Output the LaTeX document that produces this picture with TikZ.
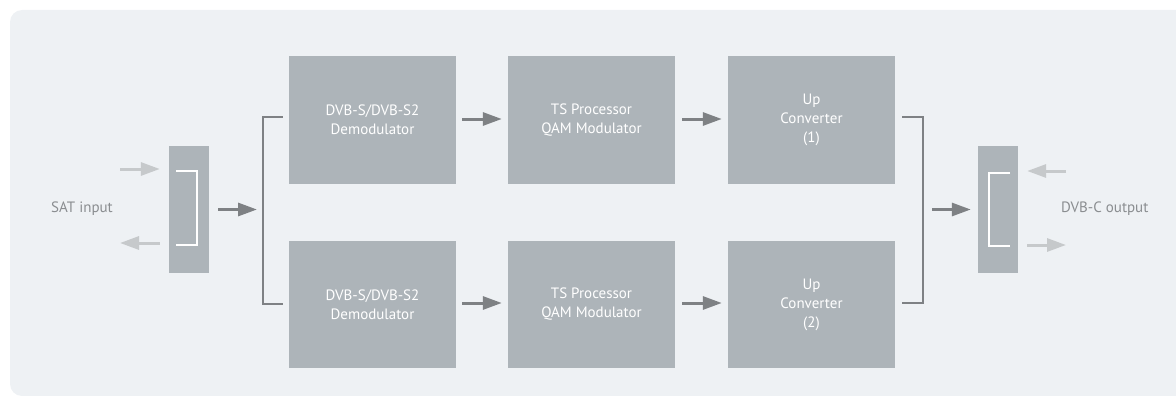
\documentclass[tikz,border=0pt]{standalone}
\usepackage{fontspec}
\setmainfont{PT Sans}
\usetikzlibrary{arrows.meta}
\definecolor{panel}{HTML}{EEF1F4}
\definecolor{block}{HTML}{ADB4B9}
\definecolor{darkline}{HTML}{7E8184}
\definecolor{lightline}{HTML}{C6C9CB}
\definecolor{labeltext}{HTML}{8A8D90}
\tikzset{
  x=1pt, y=-1pt,
  blockbox/.style={fill=block, draw=none, minimum width=167pt, minimum height=127pt,
    inner sep=0pt, text=white, align=center, font=\fontsize{15}{19}\selectfont},
  splitbox/.style={fill=block, draw=none, minimum width=40pt, minimum height=127pt, inner sep=0pt},
  flow/.style={draw=darkline, line width=3pt, -{Triangle[length=19pt,width=13pt]}},
  port/.style={draw=lightline, line width=3pt, -{Triangle[length=19pt,width=13pt]}},
  bus/.style={draw=darkline, line width=2.6pt},
  inner/.style={draw=white, line width=2.4pt},
  lbl/.style={text=labeltext, font=\fontsize{15}{16}\selectfont, inner sep=0pt}
}
\begin{document}
\begin{tikzpicture}
\useasboundingbox (0,0) rectangle (1176,396);
\fill[panel, rounded corners=12pt] (10,10) rectangle (1200,396);

% splitters
\node[splitbox] (sin) at (189,209.5) {};
\node[splitbox] (sout) at (998,209.5) {};

% upper chain
\node[blockbox] (d1) at (372.5,120) {DVB-S/DVB-S2\\Demodulator};
\node[blockbox] (t1) at (591.5,120) {TS Processor\\QAM Modulator};
\node[blockbox] (u1) at (811.5,120) {Up\\Converter\\(1)};
% lower chain
\node[blockbox] (d2) at (372.5,304.5) {DVB-S/DVB-S2\\Demodulator};
\node[blockbox] (t2) at (591.5,304.5) {TS Processor\\QAM Modulator};
\node[blockbox] (u2) at (811.5,304.5) {Up\\Converter\\(2)};

% labels
\node[lbl, anchor=east] (satlbl) at (113,209) {SAT input};
\node[lbl, anchor=west] (dvbclbl) at (1061,209) {DVB-C output};

% port arrows of the splitters
\coordinate (pinA) at (120,169);
\coordinate (pinB) at (120,243);
\draw[port] (pinA) -- ([xshift=-9pt]sin.west |- pinA);
\draw[port] ([xshift=-9pt]sin.west |- pinB) -- (pinB);
\coordinate (poutA) at (1066,171);
\coordinate (poutB) at (1066,245);
\draw[port] (poutA) -- ([xshift=9pt]sout.east |- poutA);
\draw[port] ([xshift=9pt]sout.east |- poutB) -- (poutB);

% bracket marks inside the splitters
\draw[inner] (176,171) -- (197,171) -- (197,245) -- (176,245);
\draw[inner] (1010,173) -- (989,173) -- (989,246) -- (1010,246);

% input bus
\coordinate (inbusT) at (263,117);
\coordinate (inbusB) at (263,304);
\draw[bus] ([xshift=-6pt]d1.west |- inbusT) -- (inbusT) -- (inbusB) -- ([xshift=-6pt]d2.west |- inbusB);
\draw[flow] ([xshift=9pt]sin.east) -- ([xshift=-6pt]sin.east -| inbusT);

% output bus
\coordinate (outbusT) at (923,117);
\coordinate (outbusB) at (923,303);
\draw[bus] ([xshift=7pt]u1.east |- outbusT) -- (outbusT) -- (outbusB) -- ([xshift=7pt]u2.east |- outbusB);
\draw[flow] ([xshift=9pt]outbusT |- sout.west) -- ([xshift=-7pt]sout.west);

% chain arrows
\draw[flow] ([xshift=6pt]d1.east |- 0,119) -- ([xshift=-6pt]t1.west |- 0,119);
\draw[flow] ([xshift=7pt]t1.east |- 0,119) -- ([xshift=-6pt]u1.west |- 0,119);
\draw[flow] ([xshift=6pt]d2.east |- 0,303) -- ([xshift=-6pt]t2.west |- 0,303);
\draw[flow] ([xshift=7pt]t2.east |- 0,303) -- ([xshift=-6pt]u2.west |- 0,303);
\end{tikzpicture}
\end{document}
